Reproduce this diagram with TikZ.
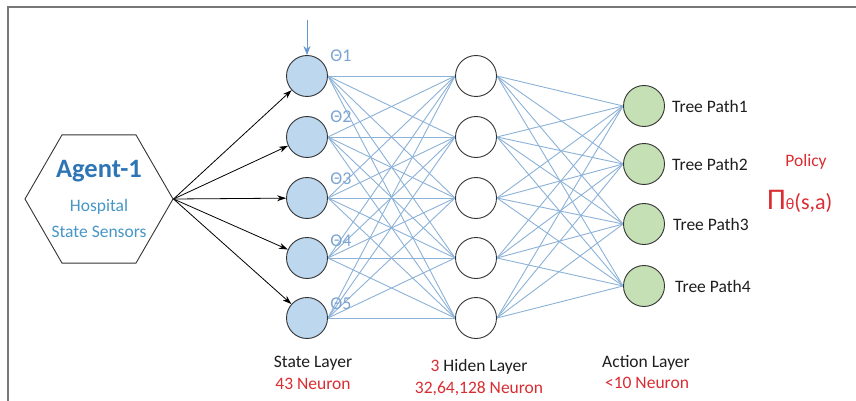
\documentclass[tikz,border=0pt]{standalone}
\usepackage{fontspec}
\setmainfont{Carlito}
\usetikzlibrary{shapes.geometric,arrows.meta}
\definecolor{linkblue}{RGB}{140,178,216}
\definecolor{stfill}{RGB}{189,215,238}
\definecolor{acfill}{RGB}{197,224,180}
\definecolor{agentblue}{RGB}{46,117,182}
\definecolor{hospblue}{RGB}{70,150,200}
\definecolor{thetablue}{RGB}{125,165,210}
\definecolor{inblue}{RGB}{100,150,210}
\definecolor{redtxt}{RGB}{218,45,50}
\definecolor{txt}{RGB}{30,30,30}
\definecolor{frame}{RGB}{120,120,120}
\pgfdeclarelayer{bg}
\pgfsetlayers{bg,main}
\tikzset{
  neuron/.style={circle, draw=black!80, line width=0.9pt, minimum size=41pt, inner sep=0pt},
  statenode/.style={neuron, fill=stfill},
  hiddennode/.style={neuron, fill=white},
  actionnode/.style={neuron, fill=acfill},
  link/.style={draw=linkblue, line width=0.9pt},
  inarrow/.style={draw=black, line width=0.8pt, -{Stealth[length=9pt,width=6pt]}},
  txtlbl/.style={font=\fontsize{17.5}{20}\selectfont, text=txt, inner sep=0pt},
  redlbl/.style={font=\fontsize{17.5}{20}\selectfont, text=redtxt, inner sep=0pt},
  thetalbl/.style={font=\fontsize{18}{20}\selectfont, text=thetablue, inner sep=0pt},
}
\begin{document}
\begin{tikzpicture}[x=1pt,y=-1pt]
\useasboundingbox (0,0) rectangle (856,401);
\begin{pgfonlayer}{bg}
\fill[white] (0,0) rectangle (856,401);
\end{pgfonlayer}
% frame
\draw[frame, line width=2pt] (8,430) -- (8,7) -- (870,7);

% agent hexagon
\node[regular polygon, regular polygon sides=6, draw=black!80, line width=0.9pt,
      minimum size=148pt, inner sep=0pt] (hex) at (99,199) {};
\node[font=\bfseries\fontsize{26.5}{28}\selectfont, text=agentblue, inner sep=0pt] (agent) at (99,171) {Agent-1};
\node[font=\fontsize{17.5}{20}\selectfont, text=hospblue, inner sep=0pt] (hosp) at (99,207) {Hospital};
\node[font=\fontsize{17.5}{20}\selectfont, text=hospblue, inner sep=0pt] (sens) at (99,232) {State Sensors};

% neurons
\foreach \i/\y in {1/76,2/137,3/198,4/258,5/318}{
  \node[statenode] (s\i) at (307,\y) {};
  \node[hiddennode] (h\i) at (476,\y) {};
}
\foreach \i/\y in {1/106,2/164,3/224,4/286}{
  \node[actionnode] (a\i) at (644,\y) {};
}

% links
\begin{pgfonlayer}{bg}
\foreach \i in {1,...,5}{
  \foreach \j in {1,...,5}{
    \draw[link] (s\i.east) -- (h\j.west);
  }
  \foreach \j in {1,...,4}{
    \draw[link] (h\i.east) -- (a\j.west);
  }
}
\end{pgfonlayer}

% input arrows
\foreach \i in {1,...,5}{
  \draw[inarrow] (hex.east) -- (s\i);
}
\coordinate (top) at (307,20);
\draw[draw=inblue, line width=1pt, -{Stealth[length=9pt,width=7pt]}] (top) -- (s1.north);

% theta labels
\node[thetalbl] (t1) at (341,56) {Θ1};
\node[thetalbl] (t2) at (341,117) {Θ2};
\node[thetalbl] (t3) at (341,179) {Θ3};
\node[thetalbl] (t4) at (341,241) {Θ4};
\node[thetalbl] (t5) at (341,304) {Θ5};

% tree path labels
\node[txtlbl, anchor=west] (p1) at (672,106) {Tree Path1};
\node[txtlbl, anchor=west] (p2) at (672,164) {Tree Path2};
\node[txtlbl, anchor=west] (p3) at (673,224) {Tree Path3};
\node[txtlbl, anchor=west] (p4) at (675,286) {Tree Path4};

% policy
\node[redlbl] (pol) at (806,162) {Policy};
\node[text=redtxt, inner sep=0pt, anchor=west] (pi) at (767,201)
  {{\fontsize{30}{32}\selectfont Π}{\fontsize{16}{18}\selectfont θ}{\fontsize{22}{24}\selectfont (s,a)}};

% layer captions
\node[txtlbl] (sl) at (313,363) {State Layer};
\node[redlbl] (sn) at (313,384) {43 Neuron};
\node[txtlbl] (hl) at (479,367) {{\color{redtxt}3} Hiden Layer};
\node[redlbl] (hn) at (479,389) {32,64,128 Neuron};
\node[txtlbl] (al) at (646,363) {Action Layer};
\node[redlbl] (an) at (647,383) {<10 Neuron};
\end{tikzpicture}
\end{document}
